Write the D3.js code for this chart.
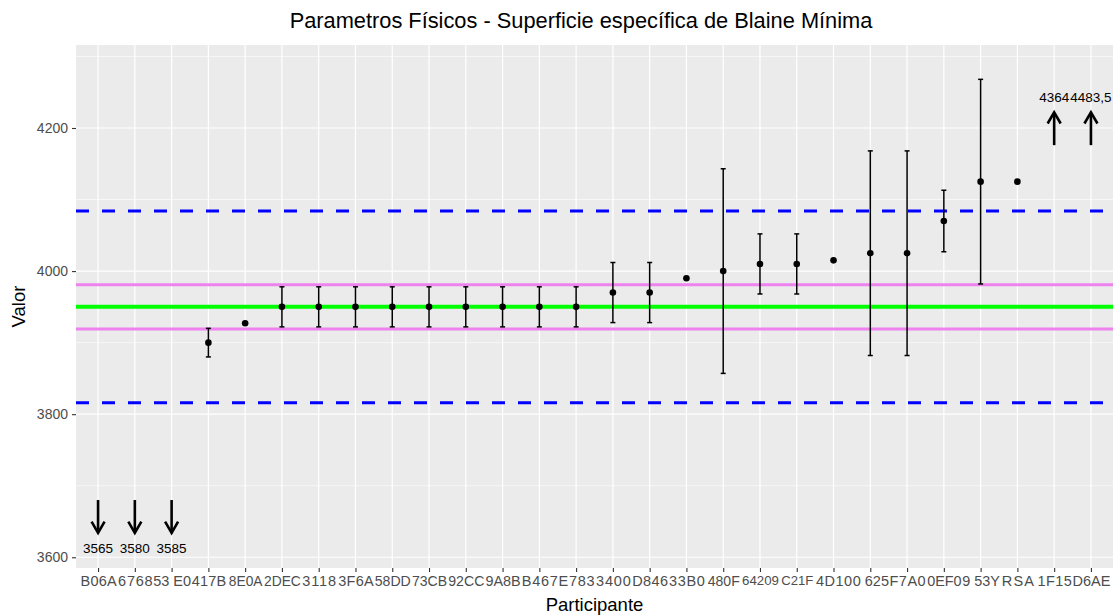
<!DOCTYPE html>
<html>
<head>
<meta charset="utf-8">
<script src="https://cdn.jsdelivr.net/npm/d3@7"></script>
<style>
  html, body { margin: 0; padding: 0; background: #ffffff; }
  svg { display: block; font-family: "Liberation Sans", Arial, sans-serif; }
</style>
</head>
<body>
<svg id="chart" width="1119" height="615"></svg>
<script>
// ---------------- data ----------------
const categories = ["B06A","6768","53 E0","417B","8E0A","2DEC","3118","3F6A","58DD","73CB",
                    "92CC","9A8B","B467","E783","3400","D846","33B0","480F","64209","C21F",
                    "4D10","0 625","F7A0","0EF0","9 53Y","RSA","1F15","D6AE"];
const values = [3565, 3580, 3585, 3900, 3927, 3950, 3950, 3950, 3950, 3950,
                3950, 3950, 3950, 3950, 3970, 3970, 3990, 4000, 4010, 4010,
                4015, 4025, 4025, 4070, 4125, 4125, 4364, 4483.5];
const uncertainty = [null, null, null, 20, null, 28, 28, 28, 28, 28,
                     28, 28, 28, 28, 42, 42, null, 143, 42, 42,
                     null, 143, 143, 43, 143, null, null, null];
const valueLabels = ["3565","3580","3585","","","","","","","",
                     "","","","","","","","","","",
                     "","","","","","","4364","4483,5"];
const plotLimits = [3600, 4300];           // values outside are drawn as arrows
const yDomain = [3585, 4316];
const yTicks = [3600, 3800, 4000, 4200];
const yMinorTicks = [3700, 3900, 4100, 4300];
const assignedValue = [3950];
const innerLimits = [3919, 3981];
const outerLimits = [3816, 4084];
const arrowDown = [3680, 3634, 3613];      // tail, tip, label
const arrowUp = [4176, 4222, 4243];        // tail, tip, label
const title = "Parametros Físicos - Superficie específica de Blaine Mínima";
const xTitle = "Participante";
const yTitle = "Valor";

// ---------------- layout ----------------
const W = 1119, H = 615;
const panel = { left: 76, right: 1113, top: 45, bottom: 568 };

const svg = d3.select("#chart");

const x = d3.scalePoint().domain(categories).range([panel.left, panel.right]).padding(0.6);
const y = d3.scaleLinear().domain(yDomain).range([panel.bottom, panel.top]);

// panel background
svg.append("rect")
  .attr("x", panel.left).attr("y", panel.top)
  .attr("width", panel.right - panel.left).attr("height", panel.bottom - panel.top)
  .attr("fill", "#EBEBEB");

const grid = svg.append("g");
grid.selectAll("line.minor").data(yMinorTicks).join("line")
  .attr("x1", panel.left).attr("x2", panel.right)
  .attr("y1", d => y(d)).attr("y2", d => y(d))
  .attr("stroke", "#ffffff").attr("stroke-width", 0.6);
grid.selectAll("line.majory").data(yTicks).join("line")
  .attr("x1", panel.left).attr("x2", panel.right)
  .attr("y1", d => y(d)).attr("y2", d => y(d))
  .attr("stroke", "#ffffff").attr("stroke-width", 1.2);
grid.selectAll("line.majorx").data(categories).join("line")
  .attr("x1", d => x(d)).attr("x2", d => x(d))
  .attr("y1", panel.top).attr("y2", panel.bottom)
  .attr("stroke", "#ffffff").attr("stroke-width", 1.2);

// reference lines
const refs = svg.append("g");
function hline(v, color, width, dash) {
  refs.append("line")
    .attr("x1", panel.left).attr("x2", panel.right)
    .attr("y1", y(v)).attr("y2", y(v))
    .attr("stroke", color).attr("stroke-width", width)
    .attr("stroke-dasharray", dash || null);
}
outerLimits.forEach(v => hline(v, "#0000FF", 3, "13,13"));
innerLimits.forEach(v => hline(v, "#EE82EE", 3));
assignedValue.forEach(v => hline(v, "#00FF00", 4));

// data table
const rows = categories.map((c, i) => ({ cat: c, v: values[i], u: uncertainty[i], lab: valueLabels[i] }));
const inRange = rows.filter(d => d.v >= plotLimits[0] && d.v <= plotLimits[1]);
const below = rows.filter(d => d.v < plotLimits[0]);
const above = rows.filter(d => d.v > plotLimits[1]);

// error bars
const eb = svg.append("g").attr("stroke", "#000000").attr("stroke-width", 1.5);
const withBars = inRange.filter(d => d.u != null);
const capHalf = 2.5;
eb.selectAll("line.v").data(withBars).join("line")
  .attr("x1", d => x(d.cat)).attr("x2", d => x(d.cat))
  .attr("y1", d => y(d.v - d.u)).attr("y2", d => y(d.v + d.u));
eb.selectAll("line.t").data(withBars).join("line")
  .attr("x1", d => x(d.cat) - capHalf).attr("x2", d => x(d.cat) + capHalf)
  .attr("y1", d => y(d.v + d.u)).attr("y2", d => y(d.v + d.u));
eb.selectAll("line.b").data(withBars).join("line")
  .attr("x1", d => x(d.cat) - capHalf).attr("x2", d => x(d.cat) + capHalf)
  .attr("y1", d => y(d.v - d.u)).attr("y2", d => y(d.v - d.u));

// points
svg.append("g").selectAll("circle").data(inRange).join("circle")
  .attr("cx", d => x(d.cat)).attr("cy", d => y(d.v)).attr("r", 3.3)
  .attr("fill", "#000000");

// arrows
const arr = svg.append("g").attr("stroke", "#000000").attr("stroke-width", 2.6)
  .attr("fill", "none").attr("stroke-linecap", "butt");
const headLen = 13, headAng = Math.PI / 6;
function drawArrow(cx, yTail, yTip) {
  const dir = yTip > yTail ? 1 : -1;
  arr.append("line").attr("x1", cx).attr("x2", cx).attr("y1", yTail).attr("y2", yTip - dir * 1);
  const dx = headLen * Math.sin(headAng), dy = headLen * Math.cos(headAng);
  arr.append("path")
    .attr("stroke-linejoin", "miter")
    .attr("d", `M${cx - dx},${yTip - dir * dy} L${cx},${yTip} L${cx + dx},${yTip - dir * dy}`);
}
below.forEach(d => drawArrow(x(d.cat), y(arrowDown[0]), y(arrowDown[1])));
above.forEach(d => drawArrow(x(d.cat), y(arrowUp[0]), y(arrowUp[1])));

const labs = svg.append("g").attr("font-size", 13.5).attr("fill", "#000000").attr("text-anchor", "middle");
below.forEach(d => labs.append("text").attr("x", x(d.cat)).attr("y", y(arrowDown[2])).attr("dy", "0.35em").text(d.lab));
above.forEach(d => labs.append("text").attr("x", x(d.cat)).attr("y", y(arrowUp[2])).attr("dy", "0.35em").text(d.lab));

// axes
const xAxis = d3.axisBottom(x).tickSize(4).tickPadding(4);
const gx = svg.append("g").attr("transform", `translate(0,${panel.bottom})`).call(xAxis);
gx.select(".domain").remove();
gx.selectAll(".tick line").attr("stroke", "#333333").attr("stroke-width", 1.1);
const xTexts = gx.selectAll(".tick text").attr("fill", "#4D4D4D").attr("font-size", 14.5)
  .attr("font-family", "'Liberation Sans', Arial, sans-serif");
// fit overlapping participant codes into the space left by their neighbours
const natural = xTexts.nodes().map(n => n.getComputedTextLength());
const half = (x.step() - 0.6);
xTexts.each(function(d, i) {
  const t = d3.select(this);
  const L = natural[i];
  const leftRoom = i > 0 ? half - natural[i - 1] / 2 : half;
  const rightRoom = i < natural.length - 1 ? half - natural[i + 1] / 2 : half;
  const maxW = 2 * Math.min(leftRoom, rightRoom);
  if (L > maxW) {
    t.attr("font-size", 14.5 * maxW / L);
  } else {
    const target = Math.min(maxW, L + 2.5, 36);
    if (target > L) t.attr("textLength", target).attr("lengthAdjust", "spacing");
  }
});

const yAxis = d3.axisLeft(y).tickValues(yTicks).tickFormat(d3.format("d")).tickSize(4).tickPadding(4);
const gy = svg.append("g").attr("transform", `translate(${panel.left},0)`).call(yAxis);
gy.select(".domain").remove();
gy.selectAll(".tick line").attr("stroke", "#333333").attr("stroke-width", 1.1);
gy.selectAll(".tick text").attr("fill", "#4D4D4D").attr("font-size", 14)
  .attr("font-family", "'Liberation Sans', Arial, sans-serif");

// titles
svg.append("text").attr("x", 581).attr("y", 28)
  .attr("text-anchor", "middle").attr("font-size", 21.8).attr("fill", "#000000").text(title);
svg.append("text").attr("x", (panel.left + panel.right) / 2).attr("y", 611)
  .attr("text-anchor", "middle").attr("font-size", 18.5).attr("fill", "#000000").text(xTitle);
svg.append("text").attr("transform", `translate(25,${(panel.top + panel.bottom) / 2}) rotate(-90)`)
  .attr("text-anchor", "middle").attr("font-size", 18.5).attr("fill", "#000000").text(yTitle);
</script>
</body>
</html>
